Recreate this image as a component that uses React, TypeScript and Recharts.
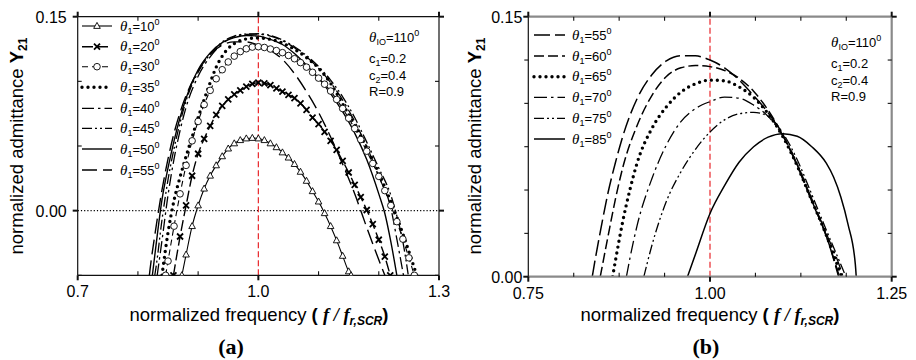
import React from 'react'
import { LineChart, Line, XAxis, YAxis, ReferenceLine } from 'recharts'

type Pt = [number, number]

// panel (a): theta_1 = 10 ... 55 deg, x = f / f_r,SCR, y = Y21
const a10: Pt[] = [[0.873, -0.05], [0.88, -0.034], [0.89, -0.012], [0.9, 0.004], [0.91, 0.017], [0.92, 0.027], [0.93, 0.035], [0.94, 0.042], [0.95, 0.048], [0.96, 0.052], [0.97, 0.0545], [0.98, 0.0558], [0.99, 0.0562], [1.0, 0.0558], [1.01, 0.0545], [1.02, 0.052], [1.03, 0.049], [1.04, 0.045], [1.05, 0.041], [1.06, 0.036], [1.07, 0.03], [1.08, 0.023], [1.09, 0.015], [1.1, 0.007], [1.11, -0.002], [1.12, -0.012], [1.13, -0.023], [1.14, -0.035], [1.15, -0.047], [1.154, -0.05]]
const a20: Pt[] = [[0.859, -0.05], [0.87, -0.02], [0.88, 0.004], [0.89, 0.027], [0.9, 0.044], [0.91, 0.0555], [0.92, 0.0655], [0.93, 0.074], [0.94, 0.081], [0.95, 0.086], [0.96, 0.09], [0.97, 0.093], [0.98, 0.096], [0.99, 0.098], [1.0, 0.099], [1.01, 0.0985], [1.02, 0.097], [1.03, 0.0945], [1.04, 0.092], [1.05, 0.0895], [1.06, 0.087], [1.07, 0.083], [1.08, 0.078], [1.09, 0.072], [1.1, 0.067], [1.11, 0.061], [1.12, 0.054], [1.13, 0.047], [1.14, 0.0385], [1.15, 0.0295], [1.16, 0.02], [1.17, 0.0105], [1.18, 0.0005], [1.19, -0.0105], [1.2, -0.0225], [1.21, -0.0355], [1.219, -0.05]]
const a30: Pt[] = [[0.846, -0.05], [0.85, -0.039], [0.86, -0.012], [0.87, 0.013], [0.88, 0.035], [0.89, 0.054], [0.9, 0.069], [0.91, 0.082], [0.92, 0.093], [0.93, 0.102], [0.94, 0.109], [0.95, 0.115], [0.96, 0.1195], [0.97, 0.123], [0.98, 0.1252], [0.99, 0.1265], [1.0, 0.1268], [1.01, 0.1262], [1.02, 0.125], [1.03, 0.1238], [1.04, 0.1222], [1.05, 0.12], [1.06, 0.1175], [1.07, 0.1145], [1.08, 0.111], [1.09, 0.107], [1.1, 0.1025], [1.11, 0.0978], [1.12, 0.0925], [1.13, 0.086], [1.14, 0.079], [1.15, 0.0715], [1.16, 0.0635], [1.17, 0.055], [1.18, 0.046], [1.19, 0.0365], [1.2, 0.0265], [1.21, 0.0155], [1.22, 0.004], [1.23, -0.0085], [1.24, -0.022], [1.25, -0.0365], [1.259, -0.05]]
const a35: Pt[] = [[0.84, -0.05], [0.85, -0.017], [0.86, 0.008], [0.87, 0.026], [0.88, 0.042], [0.89, 0.057], [0.9, 0.072], [0.91, 0.086], [0.92, 0.099], [0.93, 0.111], [0.94, 0.1195], [0.95, 0.1255], [0.96, 0.1292], [0.97, 0.1315], [0.98, 0.1328], [0.99, 0.1334], [1.0, 0.1335], [1.02, 0.1325], [1.04, 0.1296], [1.06, 0.1248], [1.08, 0.1184], [1.1, 0.1102], [1.12, 0.0985], [1.14, 0.0825], [1.16, 0.066], [1.18, 0.0485], [1.2, 0.029], [1.22, 0.007], [1.24, -0.018], [1.263, -0.05]]
const a40: Pt[] = [[0.832, -0.05], [0.84, -0.023], [0.85, 0.012], [0.86, 0.04], [0.87, 0.062], [0.88, 0.08], [0.9, 0.104], [0.92, 0.119], [0.94, 0.129], [0.96, 0.1345], [0.98, 0.1363], [1.0, 0.1365], [1.02, 0.135], [1.04, 0.1315], [1.06, 0.126], [1.08, 0.119], [1.1, 0.11], [1.12, 0.099], [1.14, 0.0855], [1.16, 0.069], [1.18, 0.0495], [1.2, 0.0265], [1.22, 0.002], [1.23, -0.022], [1.241, -0.05]]
const a45: Pt[] = [[0.828, -0.05], [0.83, -0.044], [0.84, -0.007], [0.85, 0.024], [0.86, 0.048], [0.87, 0.068], [0.88, 0.085], [0.9, 0.107], [0.92, 0.121], [0.94, 0.1305], [0.96, 0.135], [0.98, 0.1366], [1.0, 0.1368], [1.02, 0.1355], [1.04, 0.132], [1.06, 0.1268], [1.08, 0.12], [1.1, 0.1115], [1.12, 0.101], [1.14, 0.088], [1.16, 0.072], [1.18, 0.053], [1.2, 0.033], [1.22, 0.012], [1.23, -0.004], [1.24, -0.024], [1.249, -0.05]]
const a50: Pt[] = [[0.824, -0.05], [0.83, -0.027], [0.84, 0.0085], [0.85, 0.033], [0.86, 0.054], [0.87, 0.072], [0.88, 0.087], [0.9, 0.109], [0.92, 0.122], [0.94, 0.13], [0.96, 0.1338], [0.98, 0.1355], [1.0, 0.135], [1.02, 0.1325], [1.04, 0.1285], [1.06, 0.1215], [1.08, 0.1125], [1.1, 0.1025], [1.12, 0.0905], [1.14, 0.0765], [1.16, 0.06], [1.18, 0.0395], [1.2, 0.013], [1.21, -0.002], [1.22, -0.024], [1.23, -0.05]]
const a55: Pt[] = [[0.819, -0.05], [0.82, -0.046], [0.83, -0.013], [0.84, 0.016], [0.85, 0.04], [0.86, 0.06], [0.87, 0.076], [0.88, 0.089], [0.9, 0.108], [0.92, 0.121], [0.94, 0.128], [0.96, 0.1305], [0.98, 0.1305], [1.0, 0.128], [1.02, 0.124], [1.04, 0.117], [1.06, 0.106], [1.08, 0.092], [1.1, 0.076], [1.12, 0.057], [1.14, 0.036], [1.16, 0.013], [1.18, -0.013], [1.2, -0.038], [1.21, -0.05]]

// panel (b): theta_1 = 55 ... 85 deg
const b55: Pt[] = [[0.838, 0], [0.84, 0.005], [0.85, 0.028], [0.86, 0.049], [0.87, 0.066], [0.88, 0.081], [0.9, 0.103], [0.92, 0.1165], [0.94, 0.1245], [0.96, 0.1275], [0.98, 0.1274], [1.0, 0.125], [1.02, 0.1205], [1.04, 0.1135], [1.06, 0.1045], [1.08, 0.0945], [1.1, 0.0815], [1.12, 0.064], [1.14, 0.0435], [1.16, 0.0235], [1.177, 0]]
const b60: Pt[] = [[0.849, 0], [0.86, 0.024], [0.87, 0.045], [0.88, 0.063], [0.9, 0.0875], [0.92, 0.1045], [0.94, 0.1155], [0.96, 0.1205], [0.98, 0.1218], [1.0, 0.1212], [1.02, 0.119], [1.04, 0.1145], [1.06, 0.107], [1.08, 0.096], [1.1, 0.082], [1.12, 0.0645], [1.14, 0.044], [1.16, 0.0235], [1.178, 0]]
const b65: Pt[] = [[0.866, 0], [0.87, 0.0095], [0.88, 0.032], [0.89, 0.0505], [0.9, 0.066], [0.92, 0.0855], [0.94, 0.098], [0.96, 0.1065], [0.98, 0.1113], [1.0, 0.1134], [1.02, 0.113], [1.04, 0.1095], [1.06, 0.1035], [1.08, 0.094], [1.1, 0.081], [1.12, 0.064], [1.14, 0.044], [1.16, 0.024], [1.181, 0]]
const b70: Pt[] = [[0.885, 0], [0.89, 0.011], [0.9, 0.03], [0.92, 0.0565], [0.94, 0.076], [0.96, 0.0895], [0.98, 0.097], [1.0, 0.101], [1.02, 0.1036], [1.04, 0.103], [1.06, 0.099], [1.08, 0.0925], [1.1, 0.0815], [1.12, 0.065], [1.14, 0.045], [1.16, 0.025], [1.18, 0.004], [1.183, 0]]
const b75: Pt[] = [[0.909, 0], [0.92, 0.018], [0.94, 0.0435], [0.96, 0.0605], [0.98, 0.0735], [1.0, 0.0835], [1.02, 0.0905], [1.04, 0.094], [1.06, 0.0948], [1.08, 0.0925], [1.1, 0.083], [1.12, 0.0675], [1.14, 0.0475], [1.16, 0.027], [1.18, 0.007], [1.187, 0]]
const b85: Pt[] = [[0.969, 0], [0.98, 0.013], [1.0, 0.0365], [1.02, 0.0525], [1.04, 0.066], [1.06, 0.075], [1.08, 0.0805], [1.1, 0.0825], [1.12, 0.081], [1.14, 0.075], [1.16, 0.0655], [1.17, 0.0575], [1.18, 0.046], [1.19, 0.03], [1.2, 0.007], [1.2012, 0]]

// axis ticks
const xTicksA = [0.7, 0.8, 0.9, 1.0, 1.1, 1.2, 1.3]
const xLabelsA = [0.7, 1.0, 1.3]
const yTicksA = [-0.05, 0, 0.05, 0.1, 0.15]
const yLabelsA = [0, 0.15]
const xTicksB = [0.75, 0.8125, 0.875, 0.9375, 1.0, 1.0625, 1.125, 1.1875, 1.25]
const xLabelsB = [0.75, 1.0, 1.25]
const yTicksB = [0, 0.025, 0.05, 0.075, 0.1, 0.125, 0.15]
const yLabelsB = [0, 0.15]

const SANS = '"Liberation Sans", Arial, Helvetica, sans-serif'
const SERIF = '"Liberation Serif", "Times New Roman", serif'
const RED = '#e8262b'

type Mark = 'tri' | 'cross' | 'circle'
type Style = { key: string; label: string; data: Pt[]; dash?: string; width: number; cap?: 'round'; mark?: Mark }

const seriesA: Style[] = [
  { key: 'a10', label: '10', data: a10, width: 1.1, mark: 'tri' },
  { key: 'a20', label: '20', data: a20, dash: '11 4', width: 1.4, mark: 'cross' },
  { key: 'a30', label: '30', data: a30, dash: '6 4', width: 1.1, mark: 'circle' },
  { key: 'a35', label: '35', data: a35, dash: '0 6', width: 3.4, cap: 'round' },
  { key: 'a40', label: '40', data: a40, dash: '12 4 2.5 4', width: 1.3 },
  { key: 'a45', label: '45', data: a45, dash: '10 3 2 3 2 3', width: 1.3 },
  { key: 'a50', label: '50', data: a50, width: 1.4 },
  { key: 'a55', label: '55', data: a55, dash: '15 6', width: 1.4 },
]

const seriesB: Style[] = [
  { key: 'b55', label: '55', data: b55, dash: '16 5', width: 1.5 },
  { key: 'b60', label: '60', data: b60, dash: '10 4', width: 1.5 },
  { key: 'b65', label: '65', data: b65, dash: '0 6', width: 3.4, cap: 'round' },
  { key: 'b70', label: '70', data: b70, dash: '13 4 2.5 4', width: 1.3 },
  { key: 'b75', label: '75', data: b75, dash: '10 3 2 3 2 3', width: 1.3 },
  { key: 'b85', label: '85', data: b85, width: 1.5 },
]

const rows = (pts: Pt[]) => pts.map(([f, y]) => ({ f, y }))

function Marker({ kind, cx, cy }: { kind: Mark; cx: number; cy: number }) {
  if (kind === 'tri')
    return <path d={`M${cx},${cy - 3.6}L${cx + 3.3},${cy + 2.4}L${cx - 3.3},${cy + 2.4}Z`} fill="#fff" stroke="#000" strokeWidth={0.9} />
  if (kind === 'circle') return <circle cx={cx} cy={cy} r={3.3} fill="#fff" stroke="#000" strokeWidth={0.9} />
  return <path d={`M${cx - 3},${cy - 3}L${cx + 3},${cy + 3}M${cx - 3},${cy + 3}L${cx + 3},${cy - 3}`} stroke="#000" strokeWidth={1.8} />
}

const near = (list: number[], v: number) => list.some((l) => Math.abs(l - v) < 1e-9)

// labelled ticks point outwards and are heavier, the rest are short and point in
const mkTick = (side: 'bottom' | 'left' | 'top' | 'right', labels: number[], digits: number, gap = 11, minorOut = false) => (p: any) => {
  const { x, y, payload } = p
  const v = payload.value
  const major = near(labels, v)
  const s = { stroke: '#111', strokeWidth: major ? 2 : 1.1 }
  const out = major || minorOut
  const len = major ? 5 : 4
  if (side === 'bottom')
    return (
      <g>
        <line x1={x} x2={x} y1={y} y2={out ? y + len : y - len} {...s} />
        {major && <text x={x} y={y + 22} textAnchor="middle" fontFamily={SANS} fontSize={16} fill="#000">{v.toFixed(digits)}</text>}
      </g>
    )
  if (side === 'left')
    return (
      <g>
        <line x1={out ? x - len : x} x2={out ? x : x + len} y1={y} y2={y} {...s} />
        {major && <text x={x - gap} y={y + 6} textAnchor="end" fontFamily={SANS} fontSize={16} fill="#000">{v.toFixed(digits)}</text>}
      </g>
    )
  if (side === 'top') return <line x1={x} x2={x} y1={y} y2={out ? y - len : y + len} {...s} />
  return <line x1={out ? x + len : x - len} x2={x} y1={y} y2={y} {...s} />
}

function Panel(props: {
  left: number; width: number; plot: [number, number, number, number]
  xDomain: [number, number]; xTicks: number[]; xLabels: number[]; xDigits: number
  yDomain: [number, number]; yTicks: number[]; yLabels: number[]; yGap: number
  series: Style[]; zeroLine?: boolean
  frame: { stroke: string; strokeWidth: number }; leftLine: { stroke: string; strokeWidth: number }; leftMinorOut?: boolean
}) {
  const { left, width, plot, series, frame } = props
  const [pl, pt, pr, pb] = plot
  // axes are 1px thick so that Recharts still draws them
  const common = { type: 'number' as const, allowDataOverflow: true, tickLine: false, tickSize: 0, tickMargin: 0, interval: 0 as const }
  return (
    <div style={{ position: 'absolute', left, top: 0 }}>
      <LineChart width={width} height={360} margin={{ top: pt - 1, left: pl - left - 1, right: left + width - pr - 1, bottom: 360 - pb - 1 }}>
        <XAxis dataKey="f" domain={props.xDomain} ticks={props.xTicks} height={1} axisLine={frame} tick={mkTick('bottom', props.xLabels, props.xDigits)} {...common} />
        <XAxis xAxisId="top" orientation="top" dataKey="f" domain={props.xDomain} ticks={props.xTicks} height={1} axisLine={frame} tick={mkTick('top', props.xLabels, props.xDigits)} {...common} />
        <YAxis domain={props.yDomain} ticks={props.yTicks} width={1} axisLine={props.leftLine} tick={mkTick('left', props.yLabels, 2, props.yGap, props.leftMinorOut)} {...common} />
        <YAxis yAxisId="right" orientation="right" domain={props.yDomain} ticks={props.yTicks} width={1} axisLine={frame} tick={mkTick('right', props.yLabels, 2)} {...common} />
        {props.zeroLine && <ReferenceLine y={0} stroke="#000" strokeWidth={1.2} strokeDasharray="1.2 2" />}
        <ReferenceLine x={1} stroke={RED} strokeWidth={1.2} strokeDasharray="6 3" />
        {series.map((s) => (
          <Line
            key={s.key}
            data={rows(s.data)}
            dataKey="y"
            type="monotone"
            stroke="#000"
            strokeWidth={s.width}
            strokeDasharray={s.dash}
            strokeLinecap={s.cap ?? 'butt'}
            isAnimationActive={false}
            activeDot={false}
            dot={s.mark ? (d: any) => <Marker key={`${s.key}-${d.index}`} kind={s.mark as Mark} cx={d.cx} cy={d.cy} /> : false}
          />
        ))}
      </LineChart>
    </div>
  )
}

function Theta({ x, y, sub, val }: { x: number; y: number; sub: string; val: string }) {
  return (
    <text x={x} y={y} fontFamily={SANS} fontSize={13} fill="#000">
      <tspan fontFamily={SERIF} fontStyle="italic" fontSize={15}>θ</tspan>
      <tspan fontSize={9} dy={3}>{sub}</tspan>
      <tspan dy={-3}>={val}</tspan>
      <tspan fontSize={9} dy={-6}>0</tspan>
    </text>
  )
}

function LegendRows({ series, x0, x1, tx, ys }: { series: Style[]; x0: number; x1: number; tx: number; ys: number[] }) {
  return (
    <g>
      {series.map((s, i) => (
        <g key={s.key}>
          <line x1={x0} x2={x1} y1={ys[i]} y2={ys[i]} stroke="#000" strokeWidth={s.width} strokeDasharray={s.dash} strokeLinecap={s.cap ?? 'butt'} />
          {s.mark && <Marker kind={s.mark} cx={(x0 + x1) / 2} cy={ys[i]} />}
          <Theta x={tx} y={ys[i] + 4.5} sub="1" val={s.label} />
        </g>
      ))}
    </g>
  )
}

function Params({ x, ys }: { x: number; ys: number[] }) {
  return (
    <g fontFamily={SANS} fontSize={13} fill="#000">
      <Theta x={x} y={ys[0]} sub="IO" val="110" />
      <text x={x} y={ys[1]}>c<tspan fontSize={9} dy={3}>1</tspan><tspan dy={-3}>=0.2</tspan></text>
      <text x={x} y={ys[2]}>c<tspan fontSize={9} dy={3}>2</tspan><tspan dy={-3}>=0.4</tspan></text>
      <text x={x} y={ys[3]}>R=0.9</text>
    </g>
  )
}

function XTitle({ cx, y }: { cx: number; y: number }) {
  return (
    <text x={cx} y={y} textAnchor="middle" fontFamily={SANS} fontSize={18.5} fill="#000">
      normalized frequency <tspan fontWeight="bold">( </tspan>
      <tspan fontFamily={SERIF} fontWeight="bold" fontStyle="italic">f / f</tspan>
      <tspan fontWeight="bold" fontStyle="italic" fontSize={12} dy={4}>r,SCR</tspan>
      <tspan fontWeight="bold" dy={-4}>)</tspan>
    </text>
  )
}

function YTitle({ x, cy }: { x: number; cy: number }) {
  return (
    <text transform={`translate(${x},${cy}) rotate(-90)`} textAnchor="middle" fontFamily={SANS} fontSize={18.5} fill="#000">
      normalized admittance <tspan fontWeight="bold">Y</tspan>
      <tspan fontWeight="bold" fontSize={12} dy={4}>21</tspan>
    </text>
  )
}

export default function App() {
  const blackFrame = { stroke: '#111', strokeWidth: 1.2 }
  const grayFrame = { stroke: '#8a8a8a', strokeWidth: 2.2 }
  return (
    <div style={{ position: 'absolute', left: 0, top: 0, width: 916, height: 360, background: '#fff', overflow: 'hidden' }}>
      <Panel
        left={0} width={458} plot={[77.7, 16.7, 439, 275.3]}
        xDomain={[0.7, 1.3]} xTicks={xTicksA} xLabels={xLabelsA} xDigits={1}
        yDomain={[-0.05, 0.15]} yTicks={yTicksA} yLabels={yLabelsA} yGap={11}
        series={seriesA} zeroLine frame={blackFrame} leftLine={blackFrame}
      />
      <Panel
        left={458} width={458} plot={[528.3, 16.7, 891.7, 276.7]}
        xDomain={[0.75, 1.25]} xTicks={xTicksB} xLabels={xLabelsB} xDigits={2}
        yDomain={[0, 0.15]} yTicks={yTicksB} yLabels={yLabelsB} yGap={6}
        series={seriesB} frame={grayFrame} leftLine={blackFrame} leftMinorOut
      />
      <svg width={916} height={360} style={{ position: 'absolute', left: 0, top: 0, pointerEvents: 'none' }}>
        <LegendRows series={seriesA} x0={82} x1={112} tx={120} ys={[26, 46.7, 66.7, 87.3, 108.3, 128.3, 149, 170]} />
        <LegendRows series={seriesB} x0={534} x1={565} tx={572} ys={[35, 56, 76.7, 97.3, 118.3, 139]} />
        <Params x={369} ys={[42, 63, 80, 96]} />
        <Params x={831} ys={[46.5, 68, 84.5, 101]} />
        <XTitle cx={259} y={321} />
        <XTitle cx={710} y={321} />
        <YTitle x={23} cy={146} />
        <YTitle x={481} cy={146} />
        <text x={231} y={354} textAnchor="middle" fontFamily={SERIF} fontWeight="bold" fontSize={22}>(a)</text>
        <text x={706} y={354} textAnchor="middle" fontFamily={SERIF} fontWeight="bold" fontSize={22}>(b)</text>
      </svg>
    </div>
  )
}
